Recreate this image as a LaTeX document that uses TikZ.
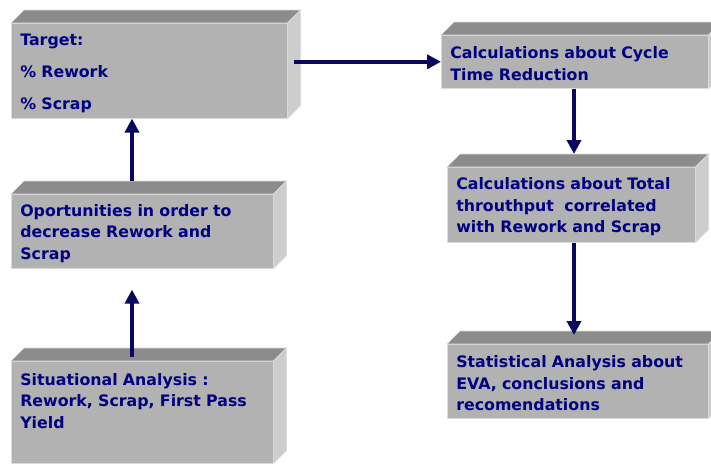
\documentclass[tikz,border=0pt]{standalone}
\usepackage{fontspec}
\setmainfont{DejaVu Sans}
\usetikzlibrary{calc,arrows.meta}
\definecolor{frontgray}{RGB}{178,178,178}
\definecolor{topgray}{RGB}{140,140,140}
\definecolor{sidegray}{RGB}{205,205,205}
\definecolor{edgegray}{RGB}{220,220,220}
\definecolor{boxtext}{RGB}{0,0,128}
\definecolor{flowblue}{RGB}{8,8,96}

\begin{document}
\begin{tikzpicture}[
              x=1pt, y=-1pt,
              block/.style={
                  rectangle,
                  anchor=north west,
                  fill=frontgray,
                  draw=edgegray,
                  line width=0.6pt,
                  text=boxtext,
                  font=\bfseries\fontsize{15.8}{21.5}\selectfont,
                  align=left,
                  text height=16pt,
                  inner xsep=9pt,
                  inner ysep=0pt,
                },
              topface/.style={fill=topgray, draw=edgegray, line width=0.6pt},
              sideface/.style={fill=sidegray, draw=edgegray, line width=0.6pt},
              flow/.style={draw=flowblue, line width=3.6pt, -{Triangle[length=14pt,width=14pt]}}
            ]
            \useasboundingbox (0,0) rectangle (711,463);
            \clip (0,0) rectangle (711,463);
            % left column
            \node[block, text width=258pt, minimum height=95pt] (target) at (11,23)
              {Target:\\[10.5pt]\% Rework\\[10.5pt]\% Scrap};
            \node[block, text width=244pt, minimum height=74pt] (oport) at (11,194)
              {Oportunities in order to\\decrease Rework and\\Scrap};
            \node[block, text width=244pt, minimum height=102pt, text depth=70pt] (situation) at (11,361)
              {Situational Analysis :\\Rework, Scrap, First Pass\\Yield};
            % right column
            \node[block, text width=249pt, minimum height=53pt] (cycle) at (441,35)
              {Calculations about Cycle\\Time Reduction};
            \node[block, text width=230pt, minimum height=75pt] (throughput) at (447,167)
              {Calculations about Total\\throuthput~ correlated\\with Rework and Scrap};
            \node[block, text width=243pt, minimum height=74pt] (stats) at (447,344)
              {Statistical Analysis about\\EVA, conclusions and\\recomendations};
            % top and side faces
            \foreach \n in {target,oport,situation,cycle,throughput,stats} {
              \path[topface] (\n.north west) -- ++(13pt,13pt) -- ($(\n.north east)+(13pt,13pt)$) -- (\n.north east) -- cycle;
              \path[sideface] (\n.north east) -- ++(13pt,13pt) -- ($(\n.south east)+(13pt,13pt)$) -- (\n.south east) -- cycle;
              \coordinate (\n-top) at ($(\n.north)+(13pt,13pt)$);
            }
            \coordinate (leftcol) at (132,0);
            \coordinate (rightcol) at (574,0);
            \path[flow] ($(target.east |- cycle.west)+(6pt,0)$) -- (cycle.west);
            \path[flow] (cycle.south -| rightcol) -- (rightcol |- throughput-top);
            \path[flow] (throughput.south -| rightcol) -- ($(rightcol |- stats-top)+(0,-4pt)$);
            \path[flow] (oport-top -| leftcol) -- (leftcol |- target.south);
            \path[flow] ($(situation.north -| leftcol)+(0,4pt)$) -- ($(leftcol |- oport.south)+(0,-21pt)$);
          \end{tikzpicture}
\end{document}
